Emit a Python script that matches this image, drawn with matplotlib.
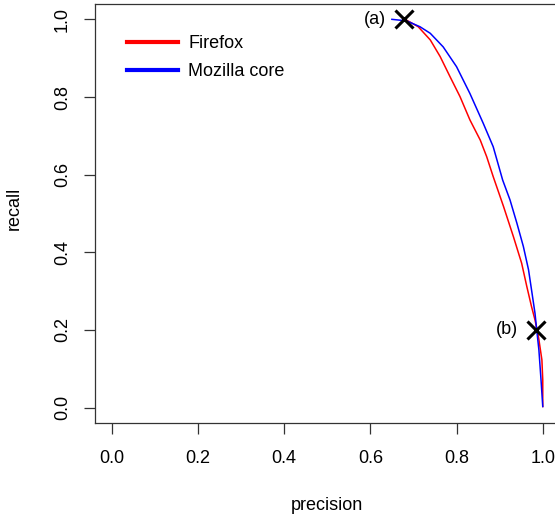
import matplotlib
matplotlib.use("Agg")
import matplotlib.pyplot as plt

plt.rcParams["font.family"] = ["Liberation Sans", "DejaVu Sans"]
plt.rcParams["font.size"] = 13

# precision / recall curves
firefox_precision = [0.678, 0.684, 0.711, 0.739, 0.762, 0.785, 0.808, 0.831, 0.855,
                     0.870, 0.885, 0.909, 0.932, 0.951, 0.963, 0.974, 0.982, 0.990,
                     0.998, 1.000, 1.000]
firefox_recall = [1.000, 0.998, 0.981, 0.947, 0.904, 0.852, 0.801, 0.741, 0.689,
                  0.646, 0.595, 0.518, 0.440, 0.372, 0.312, 0.260, 0.226, 0.183,
                  0.123, 0.071, 0.003]

core_precision = [0.650, 0.684, 0.715, 0.739, 0.769, 0.800, 0.831, 0.862, 0.885,
                  0.907, 0.924, 0.940, 0.955, 0.967, 0.974, 0.982, 0.986, 0.991,
                  0.996, 1.000]
core_recall = [1.000, 0.996, 0.981, 0.964, 0.929, 0.878, 0.809, 0.732, 0.672,
               0.586, 0.535, 0.475, 0.415, 0.355, 0.303, 0.243, 0.200, 0.149,
               0.071, 0.003]

point_labels = ["(a)", "(b)"]
point_x = [0.678, 0.984]
point_y = [1.0, 0.2]

ticks = [0.0, 0.2, 0.4, 0.6, 0.8, 1.0]

fig = plt.figure(figsize=(5.55, 5.18), dpi=100)
# axes box runs past the right edge of the picture, like the original
ax = fig.add_axes([94.5 / 555, 1 - 423.2 / 518, 465.5 / 555, 419.4 / 518])

ax.plot(firefox_precision, firefox_recall, color="red", lw=1.1, label="Firefox")
ax.plot(core_precision, core_recall, color="blue", lw=1.1, label="Mozilla core")

ax.plot(point_x, point_y, linestyle="none", marker="x", color="black",
        markersize=13, markeredgewidth=2.2)
for lab, px, py in zip(point_labels, point_x, point_y):
    ax.annotate(lab, (px, py), xytext=(-13, 0), textcoords="offset points",
                ha="right", va="center", fontsize=13)

ax.set_xlim(-0.04, 1.04)
ax.set_ylim(-0.04, 1.04)
ax.set_xticks(ticks)
ax.set_yticks(ticks)
ax.set_xticklabels(["%.1f" % t for t in ticks])
ax.set_yticklabels(["%.1f" % t for t in ticks], rotation=90, va="center")
ax.tick_params(direction="out", length=8, width=0.9, color="#333333", pad=11)
ax.tick_params(axis="y", pad=9)
for s in ax.spines.values():
    s.set_linewidth(0.9)
    s.set_color("#333333")

fig.text(327 / 555, 1 - 506 / 518, "precision", ha="center", va="center")
fig.text(14 / 555, 1 - 208 / 518, "recall", ha="center", va="center", rotation=90)

leg = ax.legend(loc="upper left", bbox_to_anchor=(126.7 / 555, 1 - 35 / 518),
                bbox_transform=fig.transFigure, frameon=False, borderpad=0,
                borderaxespad=0, handlelength=2.85, handletextpad=0.55,
                labelspacing=0.62, fontsize=13)
for line in leg.get_lines():
    line.set_linewidth(3)

fig.savefig("out.png", dpi=100)
